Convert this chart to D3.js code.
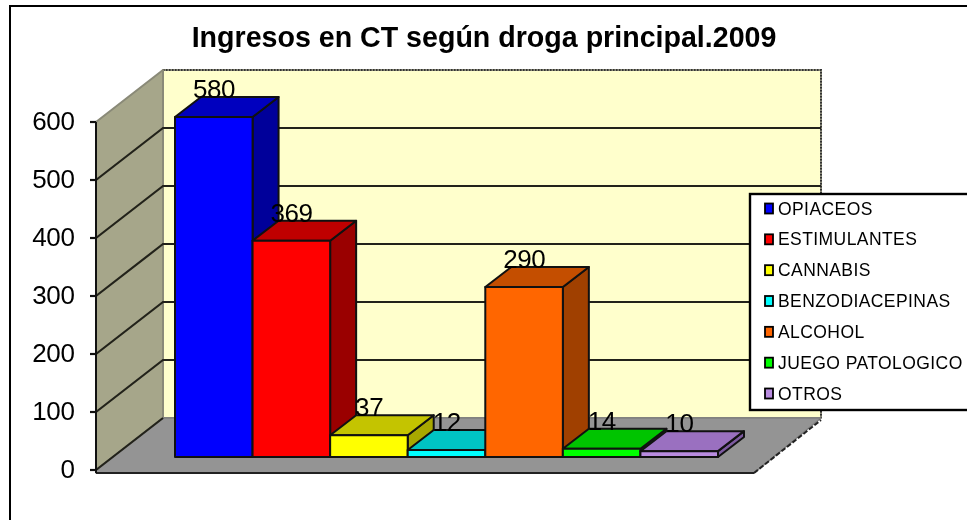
<!DOCTYPE html>
<html><head><meta charset="utf-8">
<script src="https://cdn.jsdelivr.net/npm/d3@7"></script>
<style>html,body{margin:0;padding:0;background:#fff;overflow:hidden}svg{display:block;filter:blur(0.45px)}text{font-family:"Liberation Sans",Arial,sans-serif;fill:#000}</style>
</head><body><svg id="c" width="967" height="520"></svg>
<script>
const categories=["OPIACEOS","ESTIMULANTES","CANNABIS","BENZODIACEPINAS","ALCOHOL","JUEGO PATOLOGICO","OTROS"];
const values=[580,369,37,12,290,14,10];
const frontColors=["#0000ff","#ff0000","#ffff00","#00ffff","#ff6600","#00ff00","#b98ce0"];
const topColors=["#0000bf","#bf0000","#c4c400","#00c4c4","#c44e00","#00c400","#9a70c0"];
const sideColors=["#00009a","#9a0000","#a8a800","#00a0a0","#a04000","#009a00","#7d5aa0"];
const axisTicks=[0,100,200,300,400,500,600];
const titleText="Ingresos en CT según droga principal.2009";

const svg=d3.select("#c");
const y=d3.scaleLinear().domain([0,600]).range([470,122]);
const depthX=67,depthY=-52;
const barDX=26,barDY=-20;
const x=d3.scaleBand().domain(categories).range([175,718]).paddingInner(0).paddingOuter(0);
const barH=d3.scaleLinear().domain([0,580]).range([0,340]);
const base=457;
const poly=(pts,fill,stroke="#111",sw=2)=>svg.append("polygon").attr("points",pts.map(p=>p.join(",")).join(" ")).attr("fill",fill).attr("stroke",stroke).attr("stroke-width",sw).attr("stroke-linejoin","round");

// chart frame
svg.append("rect").attr("x",10).attr("y",6).attr("width",975).attr("height",535).attr("fill","#fff").attr("stroke","#000").attr("stroke-width",2);

// back wall, side wall, floor
const X0=96,X1=754;
poly([[X0+depthX,y(600)+depthY],[X1+depthX,y(600)+depthY],[X1+depthX,y(0)+depthY],[X0+depthX,y(0)+depthY]],"#ffffcc","#8a8a78",2);
svg.append("path").attr("fill","none").attr("d",`M${X0+depthX},${y(600)+depthY}H${X1+depthX}V${y(0)+depthY}`).attr("stroke","#333").attr("stroke-width",2).attr("stroke-dasharray","1.5 1.5");
poly([[X0,y(600)],[X0+depthX,y(600)+depthY],[X0+depthX,y(0)+depthY],[X0,y(0)]],"#a6a68a","#8a8a78",2);
poly([[X0,y(0)],[X0+depthX,y(0)+depthY],[X1+depthX,y(0)+depthY],[X1,y(0)+3],[X0,y(0)+3]],"#949494","#808080",1.5);
svg.append("line").attr("x1",X0).attr("x2",X1).attr("y1",y(0)+3).attr("y2",y(0)+3).attr("stroke","#222").attr("stroke-width",2);
svg.append("line").attr("x1",X1).attr("x2",X1+depthX).attr("y1",y(0)+3).attr("y2",y(0)+depthY+2).attr("stroke","#222").attr("stroke-width",2).attr("stroke-dasharray","5 2");

// gridlines
axisTicks.slice(0,-1).forEach(t=>{
  svg.append("path").attr("fill","none").attr("stroke","#22221a").attr("stroke-width",2.2)
    .attr("d",`M${X0},${y(t)}L${X0+depthX},${y(t)+depthY}`+(t>0?`H${X1+depthX}`:""));
});
// axis
svg.append("line").attr("x1",X0).attr("x2",X0).attr("y1",y(600)).attr("y2",y(0)+3).attr("stroke","#111").attr("stroke-width",2);
axisTicks.forEach(t=>{
  svg.append("line").attr("x1",X0-6).attr("x2",X0).attr("y1",y(t)).attr("y2",y(t)).attr("stroke","#111").attr("stroke-width",2.2);
  svg.append("text").attr("x",74.5).attr("y",y(t)+8).attr("text-anchor","end").attr("font-size",26).attr("letter-spacing",-0.4).text(t);
});

// bars
categories.forEach((c,i)=>{
  const x0=x(c),w=x.bandwidth(),h=barH(values[i]),t=base-h;
  poly([[x0+w,base],[x0+w+barDX,base+barDY],[x0+w+barDX,t+barDY],[x0+w,t]],sideColors[i]);
  poly([[x0,t],[x0+barDX,t+barDY],[x0+w+barDX,t+barDY],[x0+w,t]],topColors[i]);
  poly([[x0,base],[x0,t],[x0+w,t],[x0+w,base]],frontColors[i]);
});
// labels
categories.forEach((c,i)=>{
  const x0=x(c),h=barH(values[i]),t=base-h;
  svg.append("text").attr("x",x0+39).attr("y",t+barDY+1).attr("text-anchor","middle").attr("font-size",26).attr("letter-spacing",-0.4).text(values[i]);
});

// title
svg.append("text").attr("x",484).attr("y",47).attr("text-anchor","middle").attr("font-size",28.6).attr("font-weight","bold").text(titleText);

// legend
svg.append("rect").attr("x",750).attr("y",194).attr("width",230).attr("height",216).attr("fill","#fff").attr("stroke","#000").attr("stroke-width",2.4);
const ly=d3.scalePoint().domain(categories).range([208.5,393.5]);
categories.forEach((c,i)=>{
  svg.append("rect").attr("x",765).attr("y",ly(c)-5).attr("width",8).attr("height",10).attr("fill",frontColors[i]).attr("stroke","#000").attr("stroke-width",1.8);
  svg.append("text").attr("x",778).attr("y",ly(c)+6).attr("font-size",17.5).attr("letter-spacing",0.42).text(c);
});
</script></body></html>
